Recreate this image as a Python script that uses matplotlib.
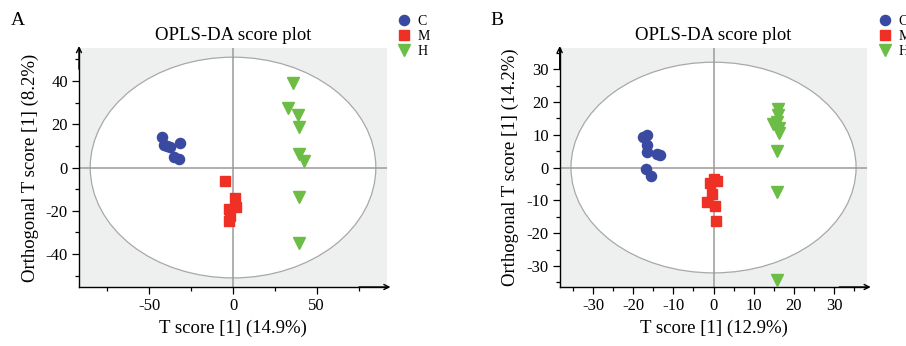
import matplotlib
matplotlib.use("Agg")
import matplotlib.pyplot as plt
from matplotlib.patches import Ellipse
from matplotlib.ticker import MultipleLocator

plt.rcParams['font.family'] = ['Liberation Serif', 'DejaVu Serif']
plt.rcParams['axes.unicode_minus'] = False

# colours of the three groups
group_names = ['C', 'M', 'H']
group_colors = ['#3a4aa0', '#ee3124', '#6cbd45']
group_markers = ['o', 's', 'v']

# ---- panel A scores (T score, orthogonal T score) ----
a_c_x = [-42.4, -41.5, -39.5, -37.5, -31.5, -35.5, -32.5]
a_c_y = [14.0, 10.5, 10.0, 9.4, 11.5, 4.8, 3.9]
a_m_x = [-4.8, 1.4, 2.0, -2.4, -1.8, -2.6]
a_m_y = [-6.3, -14.0, -18.0, -19.2, -22.4, -24.9]
a_h_x = [36.1, 33.1, 38.7, 39.5, 39.5, 42.1, 39.5, 39.5]
a_h_y = [39.2, 27.4, 24.3, 18.9, 6.2, 3.1, -13.8, -34.9]
a_ellipse = (85.3, 51.0)      # Hotelling T2 radii
a_xlabel = 'T score [1] (14.9%)'
a_ylabel = 'Orthogonal T score [1] (8.2%)'

# ---- panel B scores ----
b_c_x = [-17.5, -16.5, -16.6, -16.5, -14.1, -13.3, -16.8, -15.6]
b_c_y = [9.4, 10.0, 6.9, 4.6, 4.2, 3.9, -0.5, -2.5]
b_m_x = [0.0, 0.8, -1.0, -0.3, -1.6, 0.3, 0.7]
b_m_y = [-3.6, -4.2, -4.7, -8.2, -10.6, -11.8, -16.2]
b_h_x = [16.1, 16.0, 15.9, 14.9, 16.4, 16.4, 15.7, 15.7, 15.9]
b_h_y = [17.8, 16.0, 14.0, 13.3, 12.0, 10.5, 4.9, -7.3, -34.2]
b_ellipse = (35.5, 32.1)
b_xlabel = 'T score [1] (12.9%)'
b_ylabel = 'Orthogonal T score [1] (14.2%)'

fig = plt.figure(figsize=(9.06, 3.46), dpi=100)


def draw_panel(rect, xs, ys, radii, xlim, ylim, xmaj, xmin, ymaj, ymin,
               xlabel, ylabel, letter, letter_x, leg_x):
    ax = fig.add_axes(rect)
    ax.set_facecolor('#eef0ef')
    ax.add_patch(Ellipse((0, 0), 2 * radii[0], 2 * radii[1], facecolor='white',
                         edgecolor='#a8a8a8', lw=0.9, zorder=1))
    ax.axhline(0, color='#9a9a9a', lw=1.1, zorder=2)
    ax.axvline(0, color='#9a9a9a', lw=1.1, zorder=2)
    sizes = [7.3, 7.3, 9.0]
    for i in range(3):
        ax.plot(xs[i], ys[i], linestyle='none', marker=group_markers[i],
                ms=sizes[i], color=group_colors[i], mec=group_colors[i],
                label=group_names[i], zorder=3)
    ax.set_xlim(*xlim)
    ax.set_ylim(*ylim)
    ax.xaxis.set_major_locator(MultipleLocator(xmaj))
    ax.xaxis.set_minor_locator(MultipleLocator(xmin))
    ax.yaxis.set_major_locator(MultipleLocator(ymaj))
    ax.yaxis.set_minor_locator(MultipleLocator(ymin))
    ax.tick_params(which='major', length=5, width=0.9, labelsize=12, pad=3)
    ax.tick_params(which='minor', length=3, width=0.9)
    for s in ['top', 'right']:
        ax.spines[s].set_visible(False)
    for s in ['left', 'bottom']:
        ax.spines[s].set_linewidth(1.0)
    # arrow heads at the ends of the axes
    ax.annotate('', xy=(0, 1.02), xytext=(0, 0.9), xycoords='axes fraction',
                arrowprops=dict(arrowstyle='->', lw=1.0, color='black',
                                mutation_scale=9))
    ax.annotate('', xy=(1.02, 0), xytext=(0.9, 0), xycoords='axes fraction',
                arrowprops=dict(arrowstyle='->', lw=1.0, color='black',
                                mutation_scale=9))
    ax.set_xlabel(xlabel, fontsize=13.5, labelpad=4)
    ax.set_ylabel(ylabel, fontsize=13.5, labelpad=5)
    ax.set_title('OPLS-DA score plot', fontsize=13.5, pad=6)
    fig.text(letter_x, 0.965, letter, fontsize=14, va='top', ha='left')
    ax.legend(loc='upper left', bbox_to_anchor=(leg_x, 0.958),
              bbox_transform=fig.transFigure, frameon=False, fontsize=10,
              handlelength=1.0, handletextpad=0.5, borderpad=0,
              borderaxespad=0, labelspacing=0.15, markerscale=1.0)
    return ax


draw_panel([0.0872, 0.1705, 0.3400, 0.6905],
           [a_c_x, a_m_x, a_h_x], [a_c_y, a_m_y, a_h_y], a_ellipse,
           (-92, 92), (-55.2, 55.2), 50, 25, 20, 10,
           a_xlabel, a_ylabel, 'A', 0.012, 0.438)

draw_panel([0.6178, 0.1705, 0.3395, 0.6905],
           [b_c_x, b_m_x, b_h_x], [b_c_y, b_m_y, b_h_y], b_ellipse,
           (-38.3, 38.3), (-36.4, 36.4), 10, 5, 10, 5,
           b_xlabel, b_ylabel, 'B', 0.541, 0.969)

fig.savefig('out.png', dpi=100)
